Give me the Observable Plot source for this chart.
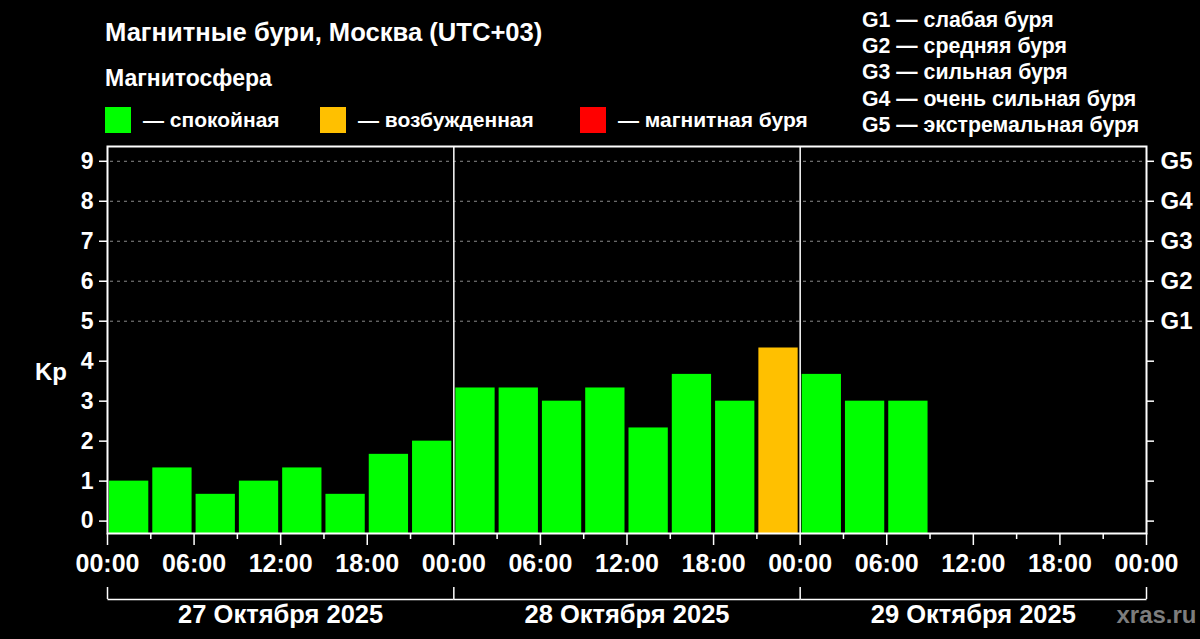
<!DOCTYPE html>
<html>
<head>
<meta charset="utf-8">
<script src="https://cdn.jsdelivr.net/npm/d3@7"></script>
<script src="https://cdn.jsdelivr.net/npm/@observablehq/plot@0.6"></script>
<style>
  html, body { margin: 0; padding: 0; background: #000; }
  #wrap { position: relative; width: 1200px; height: 639px; background: #000; overflow: hidden;
          font-family: "Liberation Sans", Arial, sans-serif; font-weight: bold; color: #fff; }
  #header { position: relative; height: 140px; }
  .title { position: absolute; left: 105px; top: 17px; font-size: 25.6px; line-height: 30px; white-space: nowrap; }
  .sub { position: absolute; left: 105px; top: 65px; font-size: 23px; line-height: 26px; white-space: nowrap; }
  .leg { position: absolute; top: 107px; height: 26px; display: flex; align-items: center; font-size: 21px; white-space: nowrap; }
  .sw { width: 26px; height: 26px; margin-right: 12px; }
  .glist { position: absolute; left: 862px; top: 7px; font-size: 21.3px; line-height: 26.2px; white-space: nowrap; }
  #chart svg { display: block; }
</style>
</head>
<body>
<div id="wrap">
  <div id="header"></div>
  <div id="chart"></div>
</div>
<script>
// ---- data ----
const titleText = "Магнитные бури, Москва (UTC+03)";
const subtitleText = "Магнитосфера";
const binStartHours = [0, 3, 6, 9, 12, 15, 18, 21, 24, 27, 30, 33, 36, 39, 42, 45, 48, 51, 54];
const kpValues = [1.00, 1.33, 0.67, 1.00, 1.33, 0.67, 1.67, 2.00, 3.33, 3.33, 3.00, 3.33, 2.33, 3.67, 3.00, 4.33, 3.67, 3.00, 3.00];
const stateNames = ["спокойная", "возбужденная", "магнитная буря"];
const stateColors = ["#00ff00", "#ffc000", "#ff0000"];
const stateThresholds = [4, 5];
const kpTicks = [0, 1, 2, 3, 4, 5, 6, 7, 8, 9];
const gLabels = ["G1", "G2", "G3", "G4", "G5"];
const gKp = [5, 6, 7, 8, 9];
const gNames = ["слабая буря", "средняя буря", "сильная буря", "очень сильная буря", "экстремальная буря"];
const dayLabels = ["27 Октября 2025", "28 Октября 2025", "29 Октября 2025"];
const dayStartHours = [0, 24, 48];
const dayEdges = [0, 24, 48, 72];
const majorTicks = [0, 6, 12, 18, 24, 30, 36, 42, 48, 54, 60, 66, 72];
const minorTicks = [3, 9, 15, 21, 27, 33, 39, 45, 51, 57, 63, 69];
const sourceText = "xras.ru";

// ---- header (HTML) ----
const header = document.getElementById("header");
header.innerHTML = `
  <div class="title">${titleText}</div>
  <div class="sub">${subtitleText}</div>
  ${stateNames.map((n, i) => `<div class="leg" style="left:${[105, 320, 580][i]}px"><div class="sw" style="background:${stateColors[i]}"></div>— ${n}</div>`).join("")}
  <div class="glist">${gLabels.map((g, i) => `<div>${g} — ${gNames[i]}</div>`).join("")}</div>
`;

// ---- chart ----
const data = binStartHours.map((h, i) => ({h, kp: kpValues[i]}));
const stateIndex = v => v >= stateThresholds[1] ? 2 : v >= stateThresholds[0] ? 1 : 0;

const yMin = -0.31, yMax = 9.37;
const W = 1200, H = 499, mt = 6, mb = 106, ml = 107, mr = 54;
const upp = (yMax - yMin) / (H - mt - mb);

const chart = Plot.plot({
  width: W, height: H,
  marginTop: mt, marginBottom: mb, marginLeft: ml, marginRight: mr,
  style: {background: "#000", color: "#fff", fontFamily: "'Liberation Sans', Arial, sans-serif", fontWeight: "bold", overflow: "visible"},
  x: {domain: [0, 72]},
  y: {domain: [yMin, yMax]},
  marks: [
    Plot.ruleY(gKp, {y: d => d, stroke: "#8a8a8a", strokeDasharray: "3,4", strokeWidth: 1, insetLeft: 3, insetRight: 3}),
    Plot.rectY(data, {x1: d => d.h, x2: d => d.h + 3, y1: yMin, y2: d => d.kp,
      fill: d => stateColors[stateIndex(d.kp)], insetLeft: 2, insetRight: 2}),
    Plot.ruleX(dayStartHours.slice(1), {x: d => d, stroke: "#fff", strokeWidth: 1.5}),
    Plot.frame({stroke: "#fff", strokeWidth: 2}),
    Plot.axisY({ticks: kpTicks, tickSize: 8, tickPadding: 6, fontSize: 23, label: null, strokeWidth: 1.5}),
    Plot.axisY({anchor: "right", ticks: kpTicks, tickFormat: d => d >= 5 ? gLabels[d - 5] : "", tickSize: 7, tickPadding: 7, fontSize: 24, label: null, strokeWidth: 1.5}),
    Plot.axisX({ticks: majorTicks, tickFormat: d => String(d % 24).padStart(2, "0") + ":00", tickSize: 12, tickPadding: 9, fontSize: 25, label: null, strokeWidth: 1.5}),
    Plot.axisX({ticks: minorTicks, tickFormat: () => "", tickSize: 6, label: null, strokeWidth: 1.5}),
    Plot.link(dayStartHours, {x1: d => d, x2: d => d + 24, y1: yMin, y2: yMin, dy: 66, stroke: "#fff", strokeWidth: 1.5}),
    Plot.ruleX(dayEdges, {x: d => d, y1: yMin, y2: yMin + 12 * upp, dy: 66, stroke: "#fff", strokeWidth: 1.5}),
    Plot.text(dayLabels, {x: (d, i) => dayStartHours[i] + 12, y: yMin, dy: 81.5, text: d => d, fontSize: 25.5, fill: "#fff"}),
    Plot.text([sourceText], {x: 72, y: yMin, dy: 81.5, dx: 50, text: d => d, textAnchor: "end", fontSize: 24, fill: "#7d7d7d"}),
    Plot.text(["Kp"], {x: 0, y: 3.72, dx: -56.5, text: d => d, fontSize: 24, fill: "#fff"})
  ]
});
document.getElementById("chart").appendChild(chart);
</script>
</body>
</html>
